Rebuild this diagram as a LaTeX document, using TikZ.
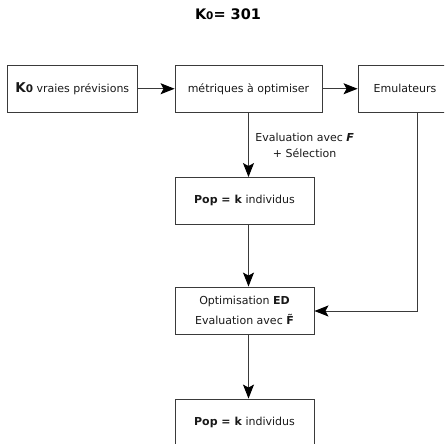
\documentclass[tikz,border=0pt]{standalone}
\usepackage{fontspec}
\setmainfont{DejaVu Sans}
\usetikzlibrary{arrows.meta}
\definecolor{edge}{HTML}{3A3A3A}
\tikzset{
  box/.style={draw=edge, line width=0.9pt, inner sep=0pt, align=center,
              font=\fontsize{11}{16}\selectfont, text=black!90},
  flow/.style={draw=edge, line width=1pt,
               -{Stealth[length=14pt,width=11pt,inset=3pt,color=black]}},
}
\begin{document}
\begin{tikzpicture}[x=1pt,y=-1pt]
  \useasboundingbox (0,0) rectangle (444,444);
  \clip (0,0) rectangle (444,444);

  % title
  \node (title) at (228,14) {\fontsize{14.5}{14}\selectfont\bfseries K{\fontsize{10.5}{10}\selectfont 0}= 301};

  % top row
  \node[box, minimum width=129.5pt, minimum height=47.5pt] (truth) at (72.25,88.75)
    {{\fontsize{13.5}{14}\selectfont\bfseries K{\fontsize{10.5}{11}\selectfont 0}} vraies prévisions};
  \node[box, minimum width=147pt, minimum height=47.5pt] (metrics) at (248.5,88.75)
    {métriques à optimiser};
  \node[box, minimum width=94pt, minimum height=47.5pt] (emul) at (405,88.75)
    {Emulateurs};

  % vertical chain
  \node[box, minimum width=139pt, minimum height=46.5pt] (pop1) at (244.5,200.75)
    {\textbf{Pop = k} individus};
  \node[box, minimum width=139pt, minimum height=47pt, font=\fontsize{11}{20.5}\selectfont] (ed) at (244.5,310.5)
    {Optimisation \textbf{ED}\\Evaluation avec \textbf{F^^^^0303}};
  \node[box, minimum width=139pt, minimum height=47pt] (pop2) at (244.5,422.5)
    {\textbf{Pop = k} individus};

  % connectors
  \coordinate (axis) at (248.5,0);
  \draw[flow] (truth) -- (metrics);
  \draw[flow] (metrics) -- (emul);
  \draw[flow] (metrics.south -| axis) -- (pop1.north -| axis)
    node[pos=0.5, right=3pt, align=center, font=\fontsize{11}{16}\selectfont, text=black!90] (lbl)
    {Evaluation avec \textbf{\textit{F}}\\+ Sélection};
  \draw[flow] (pop1.south -| axis) -- (ed.north -| axis);
  \coordinate (turn) at (417,311);
  \draw[flow] (emul.south -| turn) -- (turn) -- (ed.east |- turn);
  \draw[flow] (ed.south -| axis) -- (pop2.north -| axis);
\end{tikzpicture}
\end{document}
